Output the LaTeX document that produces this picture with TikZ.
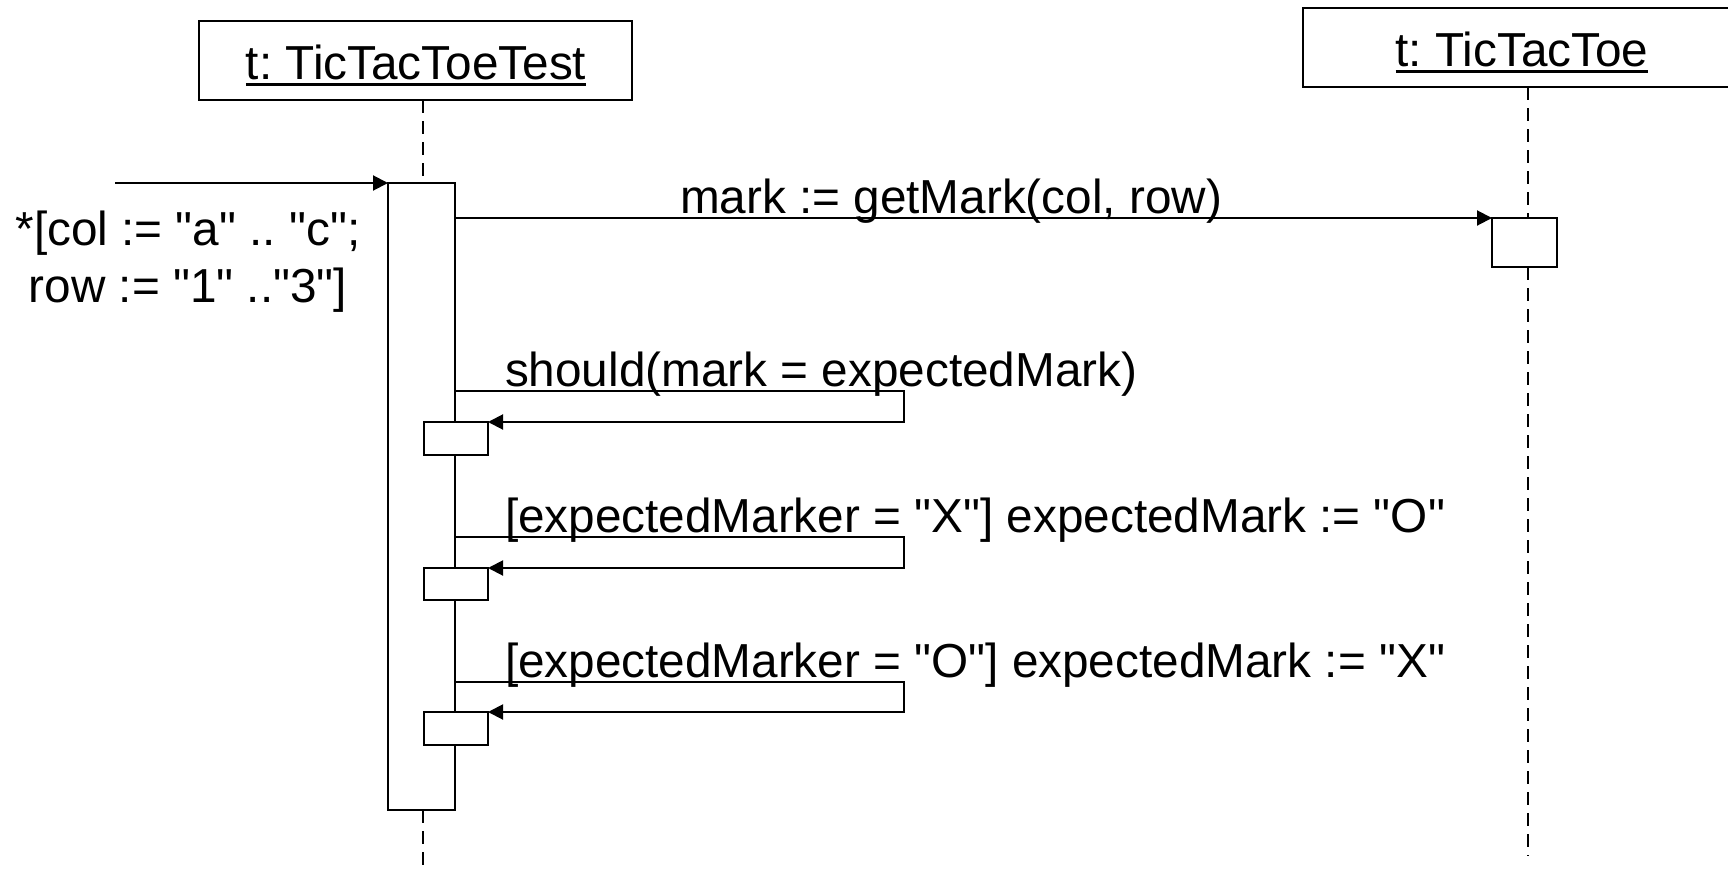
\documentclass[tikz,border=0pt]{standalone}
\usepackage{fontspec}
% a family without the TeX mapping, so that " stays a straight quote
\newfontfamily\diagfont{Liberation Sans}
\usetikzlibrary{arrows.meta}
\begin{document}
\frenchspacing
\begin{tikzpicture}[x=1pt,y=-1pt,
  every node/.style={inner sep=0pt, outer sep=0pt},
  lbl/.style={font=\diagfont\fontsize{47.7pt}{57pt}\selectfont, anchor=base west},
  objbox/.style={draw, line width=2pt, fill=white},
  actbox/.style={draw, line width=2pt, fill=white},
  lifeline/.style={line width=1.6pt, dash pattern=on 13pt off 8pt},
  msg/.style={line width=2pt, -{Triangle[length=15pt,width=15pt]}},
]
\clip (0,0) rectangle (1728,870);
\fill[white] (0,0) rectangle (1728,870);

% object heads
\node[objbox, minimum width=433pt, minimum height=79pt] (o1) at (415.5,60.5) {};
\node[objbox, minimum width=438pt, minimum height=79pt] (o2) at (1522,47.5) {};
\node[lbl, anchor=base] (t1) at (416,79) {t: TicTacToeTest};
\draw[line width=3.5pt] ([yshift=-5.5pt]t1.base west) -- ([yshift=-5.5pt]t1.base east);
\node[lbl, anchor=base] (t2) at (1522,66) {t: TicTacToe};
\draw[line width=3.5pt] ([yshift=-5.5pt]t2.base west) -- ([yshift=-5.5pt]t2.base east);

% lifeline positions and ends
\coordinate (L1) at (423,0);
\coordinate (L2) at (1528,0);
\coordinate (end1) at (423,875);
\coordinate (end2) at (1528,856);

% activations
\node[actbox, minimum width=67pt, minimum height=627pt, anchor=north] (a1) at (421.5,183) {};
\node[actbox, minimum width=65pt, minimum height=49pt, anchor=north] (a2) at (1524.5,218) {};

% lifelines
\draw[lifeline] (o1.south -| L1) -- (a1.north -| L1);
\draw[lifeline] (a1.south -| L1) -- (end1);
\draw[lifeline] (o2.south -| L2) -- (a2.north -| L2);
\draw[lifeline] (a2.south -| L2) -- (end2);

% found message with iteration guard
\coordinate (start) at (115,183);
\draw[msg] (start) -- (a1.north west);
\node[lbl, anchor=base, align=center] (guard) at (188,302)
  {*[col := "a" .. "c";\\ row := "1" .."3"]};

% call to the game
\draw[msg] (a1.east |- a2.north) -- (a2.north west);
\node[lbl] (m1) at (680,213) {mark := getMark(col, row)};

% self calls
\draw[msg] (a1.east |- 0,391) -- (904,391) -- (904,422) -- (456+32,422);
\draw[msg] (a1.east |- 0,537) -- (904,537) -- (904,568) -- (456+32,568);
\draw[msg] (a1.east |- 0,682) -- (904,682) -- (904,712) -- (456+32,712);
\node[actbox, minimum width=64pt, minimum height=33pt, anchor=north] (s1) at (456,422) {};
\node[actbox, minimum width=64pt, minimum height=32pt, anchor=north] (s2) at (456,568) {};
\node[actbox, minimum width=64pt, minimum height=33pt, anchor=north] (s3) at (456,712) {};
\node[lbl] (m2) at (505,386) {should(mark = expectedMark)};
\node[lbl] (m3) at (505,532) {[expectedMarker = "X"] expectedMark := "O"};
\node[lbl] (m4) at (505,677) {[expectedMarker = "O"] expectedMark := "X"};
\end{tikzpicture}
\end{document}
